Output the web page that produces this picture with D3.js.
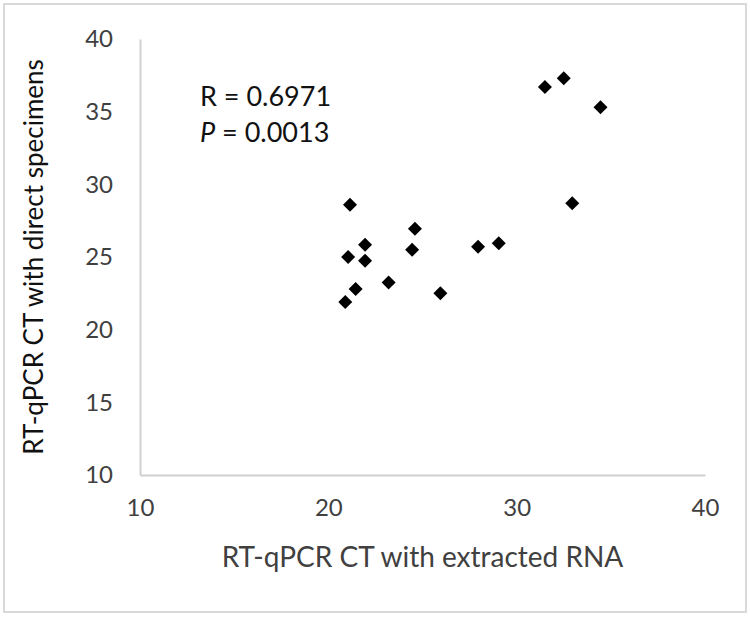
<!DOCTYPE html>
<html>
<head>
<meta charset="utf-8">
<script src="https://cdn.jsdelivr.net/npm/d3@7"></script>
<style>
  body { margin: 0; background: #fff; }
  svg text { font-family: Lato, "Open Sans", sans-serif; }
</style>
</head>
<body>
<div id="chart"></div>
<script>
// CT values
var extractedRNA    = [31.5, 32.5, 34.45, 32.95, 21.15, 24.6, 21.95, 24.45, 27.95, 29.05, 21.05, 21.95, 23.2, 21.45, 25.95, 20.9];
var directSpecimens = [36.7, 37.3, 35.3, 28.7, 28.6, 26.95, 25.85, 25.5, 25.7, 25.95, 25.0, 24.75, 23.25, 22.8, 22.5, 21.9];

var xTicks = [10, 20, 30, 40];
var yTicks = [10, 15, 20, 25, 30, 35, 40];

var xTitle = "RT-qPCR CT with extracted RNA";
var yTitle = "RT-qPCR CT with direct specimens";
var statR = "0.6971";
var statP = "0.0013";

var width = 750,
    height = 617;

var margin = {top: 39, right: 45, bottom: 142, left: 140};

var svg = d3.select("#chart").append("svg")
    .attr("width", width)
    .attr("height", height);

// outer chart border
svg.append("rect")
    .attr("x", 4).attr("y", 4)
    .attr("width", width - 8).attr("height", height - 9)
    .attr("fill", "none")
    .attr("stroke", "#d9d9d9")
    .attr("stroke-width", 2);

var x = d3.scaleLinear()
    .domain([10, 40])
    .range([margin.left, width - margin.right]);

var y = d3.scaleLinear()
    .domain([10, 40])
    .range([height - margin.bottom, margin.top]);

var points = extractedRNA.map((d, i) => ({x: d, y: directSpecimens[i]}));

/// AXES ///
var xAxis = svg.append("g")
    .attr("transform", "translate(0," + y(10) + ")")
    .call(d3.axisBottom(x).tickValues(xTicks).tickSize(0).tickPadding(24));

var yAxis = svg.append("g")
    .attr("transform", "translate(" + x(10) + ",0)")
    .call(d3.axisLeft(y).tickValues(yTicks).tickSize(0).tickPadding(27));

[xAxis, yAxis].forEach(g => {
  g.select(".domain")
    .attr("stroke", "#d0d0d0")
    .attr("stroke-width", 2);
  g.selectAll("text")
    .attr("font-family", "Lato, sans-serif")
    .attr("font-size", 24)
    .attr("fill", "#404040");
});

/// TITLES ///
svg.append("text")
    .attr("x", (x(10) + x(40)) / 2)
    .attr("y", 567)
    .attr("text-anchor", "middle")
    .attr("font-size", 28)
    .attr("fill", "#404040")
    .text(xTitle);

svg.append("text")
    .attr("transform", "translate(43," + ((y(10) + y(40)) / 2) + ") rotate(-90)")
    .attr("text-anchor", "middle")
    .attr("font-size", 26)
    .attr("fill", "#111")
    .text(yTitle);

/// STATS ///
var stats = svg.append("g")
    .attr("font-size", 27)
    .attr("fill", "#111");

stats.append("text")
    .attr("x", 200).attr("y", 106)
    .text("R = " + statR);

var pLine = stats.append("text")
    .attr("x", 200).attr("y", 142);
pLine.append("tspan").attr("font-style", "italic").text("P");
pLine.append("tspan").text(" = " + statP);

/// POINTS ///
svg.selectAll("path.pt")
    .data(points)
    .enter()
    .append("path")
    .attr("class", "pt")
    .attr("d", d3.symbol().type(d3.symbolDiamond2).size(125))
    .attr("transform", d => "translate(" + x(d.x) + "," + y(d.y) + ")")
    .attr("fill", "#000");
</script>
</body>
</html>
